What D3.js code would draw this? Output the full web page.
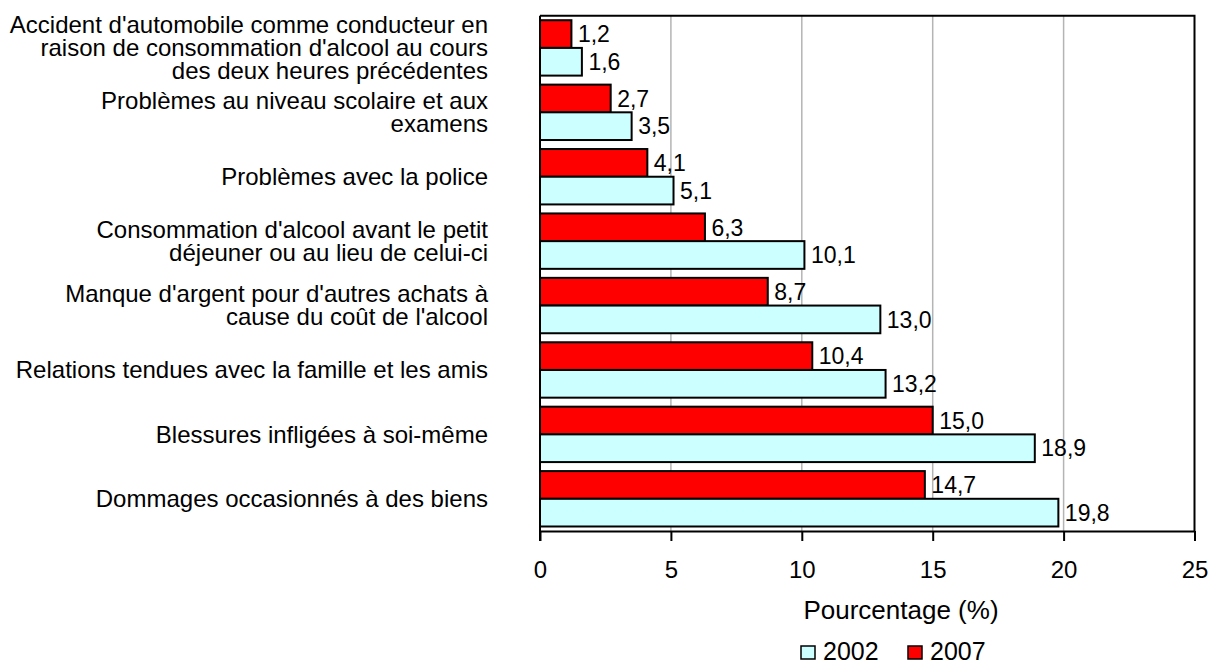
<!DOCTYPE html>
<html>
<head>
<meta charset="utf-8">
<script src="https://cdn.jsdelivr.net/npm/d3@7"></script>
<style>
  body { margin: 0; background: #fff; }
  text { font-family: "Liberation Sans", Arial, sans-serif; fill: #000; }
</style>
</head>
<body>
<div id="chart"></div>
<script>

// data
var categories = [
    ["Accident d'automobile comme conducteur en", "raison de consommation d'alcool au cours", "des deux heures précédentes"],
    ["Problèmes au niveau scolaire et aux", "examens"],
    ["Problèmes avec la police"],
    ["Consommation d'alcool avant le petit", "déjeuner ou au lieu de celui-ci"],
    ["Manque d'argent pour d'autres achats à", "cause du coût de l'alcool"],
    ["Relations tendues avec la famille et les amis"],
    ["Blessures infligées à soi-même"],
    ["Dommages occasionnés à des biens"]
];
var years = ["2007", "2002"];
var values2007 = [1.2, 2.7, 4.1, 6.3, 8.7, 10.4, 15.0, 14.7];
var values2002 = [1.6, 3.5, 5.1, 10.1, 13.0, 13.2, 18.9, 19.8];
var xTicks = [0, 5, 10, 15, 20, 25];
var colors = { "2002": "#ccffff", "2007": "#ff0000" };

var W = 1212, H = 663;
var plot = { left: 540, right: 1194.5, top: 15.7, bottom: 531 };

var rows = categories.map(function (c, i) {
    return { idx: i, lines: c, "2007": values2007[i], "2002": values2002[i] };
});

var svg = d3.select("#chart").append("svg")
    .attr("width", W)
    .attr("height", H);

var x = d3.scaleLinear().domain([0, 25]).range([plot.left, plot.right]);
var y = d3.scaleBand().domain(d3.range(categories.length))
    .range([plot.top, plot.bottom])
    .paddingInner(0.14).paddingOuter(0.07);
var ySub = d3.scaleBand().domain(years).range([0, y.bandwidth()]);

// gridlines
svg.append("g").selectAll("line")
    .data(xTicks.filter(function (d) { return d > 0 && d < 25; }))
    .join("line")
    .attr("x1", function (d) { return x(d); })
    .attr("x2", function (d) { return x(d); })
    .attr("y1", plot.top)
    .attr("y2", plot.bottom)
    .attr("stroke", "#b4b4b4")
    .attr("stroke-width", 1.5);

// top and right border
svg.append("path")
    .attr("d", "M" + plot.left + "," + plot.top + "H" + plot.right + "V" + plot.bottom)
    .attr("fill", "none")
    .attr("stroke", "#000")
    .attr("stroke-width", 2);

// bars
var groups = svg.append("g").selectAll("g")
    .data(rows)
    .join("g")
    .attr("transform", function (d) { return "translate(0," + y(d.idx) + ")"; });

groups.selectAll("rect")
    .data(function (d) { return years.map(function (k) { return { key: k, value: d[k] }; }); })
    .join("rect")
    .attr("x", x(0))
    .attr("y", function (d) { return ySub(d.key); })
    .attr("width", function (d) { return x(d.value) - x(0); })
    .attr("height", ySub.bandwidth())
    .attr("fill", function (d) { return colors[d.key]; })
    .attr("stroke", "#000")
    .attr("stroke-width", 2);

groups.selectAll("text.val")
    .data(function (d) { return years.map(function (k) { return { key: k, value: d[k] }; }); })
    .join("text")
    .attr("class", "val")
    .attr("x", function (d) { return x(d.value) + 6.5; })
    .attr("y", function (d) { return ySub(d.key) + ySub.bandwidth() / 2; })
    .attr("dy", "0.36em")
    .style("font-size", "23px")
    .text(function (d) { return d3.format(".1f")(d.value).replace(".", ","); });

// category labels
var lineH = 23.4;
svg.append("g").selectAll("text")
    .data(rows)
    .join("text")
    .attr("text-anchor", "end")
    .style("font-size", "24px")
    .each(function (d) {
        var t = d3.select(this);
        var cy = y(d.idx) + y.bandwidth() / 2;
        var n = d.lines.length;
        d.lines.forEach(function (l, j) {
            t.append("tspan")
                .attr("x", 488)
                .attr("y", cy + (j - (n - 1) / 2) * lineH)
                .attr("dy", "0.34em")
                .text(l);
        });
    });

// x axis
var xAxis = svg.append("g")
    .attr("transform", "translate(0," + plot.bottom + ")")
    .call(d3.axisBottom(x).tickValues(xTicks).tickSize(10).tickPadding(20).tickSizeOuter(0));
xAxis.select(".domain").attr("stroke", "#000").attr("stroke-width", 2);
xAxis.selectAll(".tick line").attr("stroke", "#000").attr("stroke-width", 2);
xAxis.selectAll(".tick text")
    .style("font-size", "24px")
    .attr("font-family", null);

// y axis line
svg.append("line")
    .attr("x1", plot.left).attr("x2", plot.left)
    .attr("y1", plot.top).attr("y2", plot.bottom + 10)
    .attr("stroke", "#000")
    .attr("stroke-width", 2);

// axis title
svg.append("text")
    .attr("x", 901)
    .attr("y", 619)
    .attr("text-anchor", "middle")
    .style("font-size", "26px")
    .text("Pourcentage (%)");

// legend
var legendItems = [
    { key: "2002", x: 801 },
    { key: "2007", x: 908 }
];
var legend = svg.append("g").selectAll("g")
    .data(legendItems)
    .join("g")
    .attr("transform", function (d) { return "translate(" + d.x + ",646)"; });
legend.append("rect")
    .attr("width", 14)
    .attr("height", 13)
    .attr("fill", function (d) { return colors[d.key]; })
    .attr("stroke", "#000")
    .attr("stroke-width", 1.5);
legend.append("text")
    .attr("x", 22)
    .attr("y", 14)
    .style("font-size", "25px")
    .text(function (d) { return d.key; });

</script>
</body>
</html>
